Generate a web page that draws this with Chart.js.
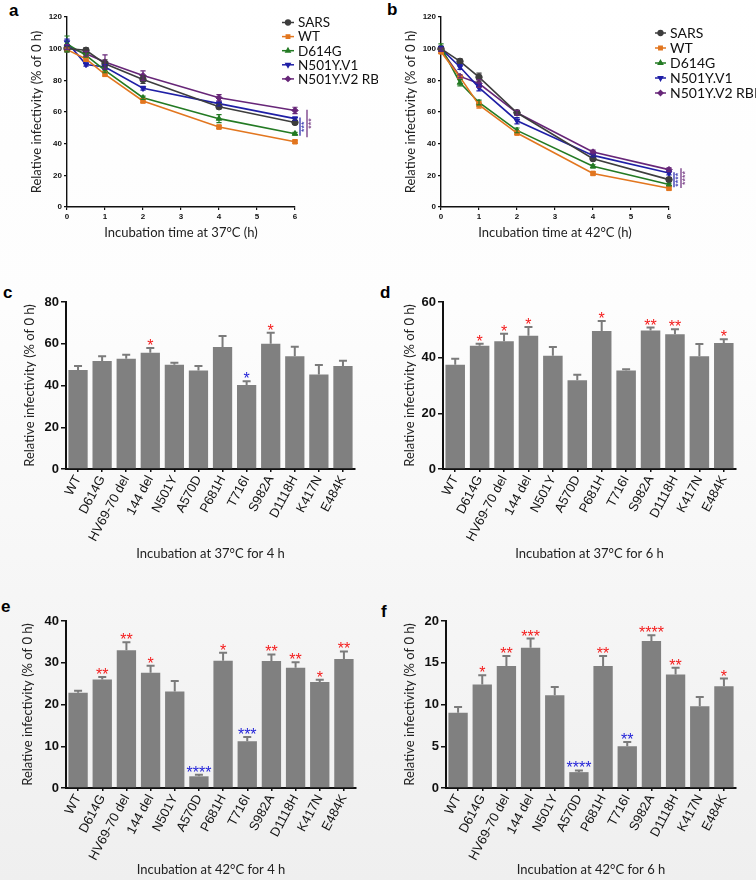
<!DOCTYPE html>
<html>
<head>
<meta charset="utf-8">
<script src="https://cdn.jsdelivr.net/npm/chart.js@4.4.0/dist/chart.umd.min.js"></script>
<style>
  body { margin: 0; width: 756px; height: 880px; position: relative; overflow: hidden;
         background: linear-gradient(to bottom, #ffffff 0%, #fdfdfd 35%, #efefef 100%); }
  canvas { position: absolute; }
  .lab { position: absolute; font: bold 17px "Liberation Sans", Arial, sans-serif; color: #000; }
</style>
</head>
<body>
<div class="lab" style="left:9px;top:1px">a</div>
<div class="lab" style="left:387px;top:0px">b</div>
<div class="lab" style="left:3px;top:283px">c</div>
<div class="lab" style="left:380px;top:283px">d</div>
<div class="lab" style="left:1px;top:597px">e</div>
<div class="lab" style="left:381px;top:602px">f</div>

<canvas id="pa" width="378" height="248" style="left:0;top:0"></canvas>
<canvas id="pb" width="378" height="248" style="left:378px;top:0"></canvas>
<canvas id="pc" width="378" height="320" style="left:0;top:248px"></canvas>
<canvas id="pd" width="378" height="320" style="left:378px;top:248px"></canvas>
<canvas id="pe" width="378" height="312" style="left:0;top:568px"></canvas>
<canvas id="pf" width="378" height="312" style="left:378px;top:568px"></canvas>

<script>
//==================== data ====================
var hours = [0, 0.5, 1, 2, 4, 6];
var seriesNames = ['SARS', 'WT', 'D614G', 'N501Y.V1', 'N501Y.V2 RBD'];

// 37 C time course
var sars37 = [100, 99, 90.5, 80.5, 63.3, 53.4];
var wt37 = [99.4, 93.5, 83.8, 67, 50.5, 41.2];
var d614g37 = [103, 95.8, 86.3, 69, 55.8, 46.3];
var v1_37 = [104, 90, 88.4, 75, 65.3, 55.8];
var v2_37 = [101, 96.8, 91.6, 83, 69, 61];
var sars37Err = [2, 1.5, 2.5, 2.5, 1.2, 1];
var wt37Err = [1, 1.5, 1.2, 1.2, 1, 1];
var d614g37Err = [5, 1.2, 1.5, 1, 2.5, 0.8];
var v1_37Err = [2, 1, 1.5, 1.2, 1.5, 1];
var v2_37Err = [1.5, 1.5, 4.5, 3, 2, 2];

// 42 C time course
var sars42 = [100, 92, 82, 59.5, 30.5, 17.3];
var wt42 = [98, 82, 64.5, 46.7, 21.2, 11.8];
var d614g42 = [101, 78.5, 66, 48.4, 25.7, 14.2];
var v1_42 = [100, 88.4, 75.4, 54.5, 32.6, 21.5];
var v2_42 = [99.4, 82.5, 78, 59.5, 34.7, 23.6];
var sars42Err = [1.5, 1.5, 2.5, 1.5, 1, 1.2];
var wt42Err = [1, 1, 2, 1, 1, 1];
var d614g42Err = [2, 2, 1.5, 1.5, 1, 0.8];
var v1_42Err = [1.5, 1.5, 2, 2, 1, 1.2];
var v2_42Err = [1, 1, 2.5, 1.5, 1.2, 1.2];

// significance at 6 h (series index, value range, stars)
var sig37 = [{ s: 3, from: 56.5, to: 45, stars: '***' }, { s: 4, from: 61.5, to: 44, stars: '***' }];
var sig42 = [{ s: 3, from: 22, to: 12.5, stars: '****' }, { s: 4, from: 24.5, to: 12, stars: '****' }];

// single mutants
var mutants = ['WT', 'D614G', 'HV69-70 del', '144 del', 'N501Y', 'A570D', 'P681H', 'T716I', 'S982A', 'D1118H', 'K417N', 'E484K'];

var c37h4 = [47.4, 51.7, 52.8, 55.7, 50, 47.2, 58.4, 40.2, 60, 54, 45.3, 49.4];
var c37h4Err = [1.9, 2.3, 1.9, 2.3, 0.9, 2.2, 5.3, 1.8, 5.3, 4.6, 4.5, 2.4];
var c37h4Stars = ['', '', '', '*', '', '', '', '*', '*', '', '', ''];
var c37h4Dir = [0, 0, 0, 1, 0, 0, 0, -1, 1, 0, 0, 0];

var c37h6 = [37.5, 44.3, 45.9, 47.9, 40.7, 31.9, 49.6, 35.4, 49.8, 48.4, 40.5, 45.3];
var c37h6Err = [2.1, 0.7, 2.7, 3.1, 3.1, 2, 3.6, 0.4, 1, 1.8, 4.4, 1.3];
var c37h6Stars = ['', '*', '*', '*', '', '', '*', '', '**', '**', '', '*'];
var c37h6Dir = [0, 1, 1, 1, 0, 0, 1, 0, 1, 1, 0, 1];

var c42h4 = [22.8, 26, 33, 27.6, 23.1, 2.8, 30.5, 11.2, 30.4, 28.8, 25.4, 30.9];
var c42h4Err = [0.5, 0.6, 1.9, 1.7, 2.5, 0.4, 1.9, 1, 1.6, 1.3, 0.5, 1.8];
var c42h4Stars = ['', '**', '**', '*', '', '****', '*', '***', '**', '**', '*', '**'];
var c42h4Dir = [0, 1, 1, 1, 0, -1, 1, -1, 1, 1, 1, 1];

var c42h6 = [9, 12.4, 14.6, 16.8, 11.1, 1.9, 14.6, 5, 17.6, 13.6, 9.8, 12.2];
var c42h6Err = [0.7, 1.1, 1.2, 1.1, 1, 0.2, 1.2, 0.5, 0.7, 0.8, 1.1, 0.9];
var c42h6Stars = ['', '*', '**', '***', '', '****', '**', '**', '****', '**', '', '*'];
var c42h6Dir = [0, 1, 1, 1, 0, -1, 1, -1, 1, 1, 0, 1];

//==================== styling ====================
var lineColors = ['#3d3d3d', '#e2761f', '#237a23', '#1f1fa6', '#672678'];
var pointStyles = ['circle', 'rect', 'triangle', 'triangle', 'rectRot'];
var pointRot = [0, 0, 0, 180, 0];
var yTitle = 'Relative infectivity (% of 0 h)';
var titleFont = { family: 'Lato', size: 13 };
var ink = '#111';

//==================== plugins ====================
var errBars = {
    id: 'errBars',
    afterDatasetsDraw: function(chart) {
        var ctx = chart.ctx, ys = chart.scales.y, isBar = chart.config.type === 'bar';
        chart.data.datasets.forEach(function(ds, i) {
            var meta = chart.getDatasetMeta(i);
            ctx.save();
            ctx.strokeStyle = isBar ? '#7b7b7b' : ds.borderColor;
            ctx.lineWidth = isBar ? 2 : 1.2;
            meta.data.forEach(function(el, j) {
                var v = isBar ? ds.data[j] : ds.data[j].y;
                var hi = ys.getPixelForValue(v + ds.err[j]);
                var lo = isBar ? el.y : ys.getPixelForValue(v - ds.err[j]);
                var w = isBar ? 4 : 2.6;
                ctx.beginPath();
                ctx.moveTo(el.x, lo); ctx.lineTo(el.x, hi);
                ctx.moveTo(el.x - w, hi); ctx.lineTo(el.x + w, hi);
                if (!isBar) { ctx.moveTo(el.x - w, lo); ctx.lineTo(el.x + w, lo); }
                ctx.stroke();
            });
            ctx.restore();
        });
    }
};

var starMarks = {
    id: 'starMarks',
    afterDatasetsDraw: function(chart) {
        var ctx = chart.ctx, ys = chart.scales.y;
        var ds = chart.data.datasets[0], meta = chart.getDatasetMeta(0);
        ctx.save();
        ctx.font = '16px "Liberation Sans", Arial, sans-serif';
        ctx.textAlign = 'center';
        ctx.textBaseline = 'alphabetic';
        meta.data.forEach(function(el, j) {
            if (!ds.stars[j]) return;
            var top = ys.getPixelForValue(ds.data[j] + ds.err[j]);
            ctx.fillStyle = ds.dirs[j] < 0 ? '#2424d8' : '#f41c1c';
            ctx.fillText(ds.stars[j], el.x, top + 3);
        });
        ctx.restore();
    }
};

function keyPlugin(k) {
    return {
        id: 'key',
        afterDraw: function(chart) {
            var ctx = chart.ctx;
            chart.data.datasets.forEach(function(ds, i) {
                var y = k.y + i * k.dy;
                ctx.save();
                ctx.strokeStyle = ds.borderColor;
                ctx.fillStyle = ds.borderColor;
                ctx.lineWidth = 1.5;
                ctx.beginPath(); ctx.moveTo(k.x, y); ctx.lineTo(k.x + k.len, y); ctx.stroke();
                Chart.helpers.drawPoint(ctx, { pointStyle: ds.pointStyle, radius: 2.4, rotation: ds.pointRotation || 0, borderWidth: 1 }, k.x + k.len / 2, y);
                ctx.font = k.size + 'px Lato, sans-serif';
                ctx.fillStyle = ink;
                ctx.textBaseline = 'middle';
                ctx.fillText(ds.label, k.x + k.len + 4, y + 0.5);
                ctx.restore();
            });
        }
    };
}

function sigPlugin(sigs) {
    return {
        id: 'sig',
        afterDraw: function(chart) {
            var ctx = chart.ctx, xs = chart.scales.x, ys = chart.scales.y;
            var xEnd = xs.getPixelForValue(6);
            sigs.forEach(function(s, k) {
                var col = lineColors[s.s];
                var x = xEnd + 5 + k * 7;
                var y1 = ys.getPixelForValue(s.from), y2 = ys.getPixelForValue(s.to);
                ctx.save();
                ctx.strokeStyle = col; ctx.lineWidth = 1.2;
                ctx.beginPath(); ctx.moveTo(x, y1); ctx.lineTo(x, y2); ctx.stroke();
                ctx.translate(x + 5, (y1 + y2) / 2);
                ctx.rotate(-Math.PI / 2);
                ctx.fillStyle = col;
                ctx.font = '9px "Liberation Sans", Arial, sans-serif';
                ctx.textAlign = 'center'; ctx.textBaseline = 'middle';
                ctx.fillText(s.stars, 0, 0);
                ctx.restore();
            });
        }
    };
}

//==================== chart builders ====================
function lineChart(id, series, errs, sigs, xTitle, g, key) {
    var ds = seriesNames.map(function(n, i) {
        return {
            label: n,
            data: hours.map(function(h, j) { return { x: h, y: series[i][j] }; }),
            err: errs[i],
            borderColor: lineColors[i], backgroundColor: lineColors[i],
            pointStyle: pointStyles[i], pointRotation: pointRot[i],
            pointRadius: 3.2, pointBorderWidth: 1, borderWidth: 1.6, tension: 0, clip: false
        };
    });
    new Chart(document.getElementById(id), {
        type: 'line',
        data: { datasets: ds },
        options: {
            responsive: false, animation: false,
            layout: { padding: { left: g.l, top: g.t, right: g.r, bottom: g.b } },
            plugins: { legend: { display: false }, tooltip: { enabled: false } },
            scales: {
                x: {
                    type: 'linear', min: 0, max: 6,
                    ticks: { stepSize: 1, color: ink, padding: 2, font: { family: 'Liberation Sans', size: 8, weight: 'bold' } },
                    grid: { drawOnChartArea: false, tickLength: 3, color: ink, lineWidth: 1.2 },
                    border: { color: ink, width: 1.4 },
                    title: { display: true, text: xTitle, color: '#222', font: titleFont, padding: 0 },
                    afterFit: function(s) { s.height = g.xh; }
                },
                y: {
                    min: 0, max: 120,
                    ticks: { stepSize: 20, color: ink, padding: 2, font: { family: 'Liberation Sans', size: 8, weight: 'bold' } },
                    grid: { drawOnChartArea: false, tickLength: 3, color: ink, lineWidth: 1.2 },
                    border: { color: ink, width: 1.4 },
                    title: { display: true, text: yTitle, color: '#222', font: titleFont, padding: 0 },
                    afterFit: function(s) { s.width = g.yw; }
                }
            }
        },
        plugins: [errBars, keyPlugin(key), sigPlugin(sigs)]
    });
}

function barChart(id, vals, errs, stars, dirs, yMax, yStep, xTitle, g) {
    new Chart(document.getElementById(id), {
        type: 'bar',
        data: {
            labels: mutants,
            datasets: [{
                data: vals, err: errs, stars: stars, dirs: dirs,
                backgroundColor: '#808080', borderWidth: 0,
                barPercentage: 0.8, categoryPercentage: 1
            }]
        },
        options: {
            responsive: false, animation: false,
            layout: { padding: { left: g.l, top: g.t, right: g.r, bottom: g.b } },
            plugins: { legend: { display: false }, tooltip: { enabled: false } },
            scales: {
                x: {
                    grid: { drawOnChartArea: false, offset: false, tickLength: 3, color: ink, lineWidth: 1.5 },
                    border: { color: ink, width: 2 },
                    ticks: { autoSkip: false, minRotation: 62, maxRotation: 62, color: ink, padding: 1,
                             font: { family: 'Liberation Sans', size: 13 } },
                    title: { display: true, text: xTitle, color: '#222', font: titleFont, padding: 0 },
                    afterFit: function(s) { s.height = g.xh; }
                },
                y: {
                    min: 0, max: yMax,
                    ticks: { stepSize: yStep, color: ink, padding: 2, font: { family: 'Liberation Sans', size: 13, weight: 'bold' } },
                    grid: { drawOnChartArea: false, tickLength: 5, color: ink, lineWidth: 1.5 },
                    border: { color: ink, width: 2 },
                    title: { display: true, text: yTitle, color: '#222', font: titleFont, padding: 0 },
                    afterFit: function(s) { s.width = g.yw; }
                }
            }
        },
        plugins: [errBars, starMarks]
    });
}

//==================== draw ====================
lineChart('pa', [sars37, wt37, d614g37, v1_37, v2_37],
    [sars37Err, wt37Err, d614g37Err, v1_37Err, v2_37Err], sig37,
    'Incubation time at 37\u00B0C (h)',
    { l: 29, t: 17, r: 83, b: 7, yw: 38, xh: 34 }, { x: 282, y: 22.5, dy: 14.1, len: 12, size: 13.5 });

lineChart('pb', [sars42, wt42, d614g42, v1_42, v2_42],
    [sars42Err, wt42Err, d614g42Err, v1_42Err, v2_42Err], sig42,
    'Incubation time at 42\u00B0C (h)',
    { l: 25, t: 17, r: 87, b: 7, yw: 38, xh: 34 }, { x: 277, y: 33, dy: 15, len: 11, size: 14 });

barChart('pc', c37h4, c37h4Err, c37h4Stars, c37h4Dir, 80, 20, 'Incubation at 37\u00B0C for 4 h',
    { l: 22, t: 54, r: 23, b: 6, yw: 44, xh: 93 });
barChart('pd', c37h6, c37h6Err, c37h6Stars, c37h6Dir, 60, 20, 'Incubation at 37\u00B0C for 6 h',
    { l: 24, t: 54, r: 20, b: 6, yw: 41, xh: 93 });
barChart('pe', c42h4, c42h4Err, c42h4Stars, c42h4Dir, 40, 10, 'Incubation at 42\u00B0C for 4 h',
    { l: 20, t: 53, r: 22, b: 2, yw: 46, xh: 90 });
barChart('pf', c42h6, c42h6Err, c42h6Stars, c42h6Dir, 20, 5, 'Incubation at 42\u00B0C for 6 h',
    { l: 24, t: 53, r: 20, b: 2, yw: 44, xh: 90 });
</script>
</body>
</html>
